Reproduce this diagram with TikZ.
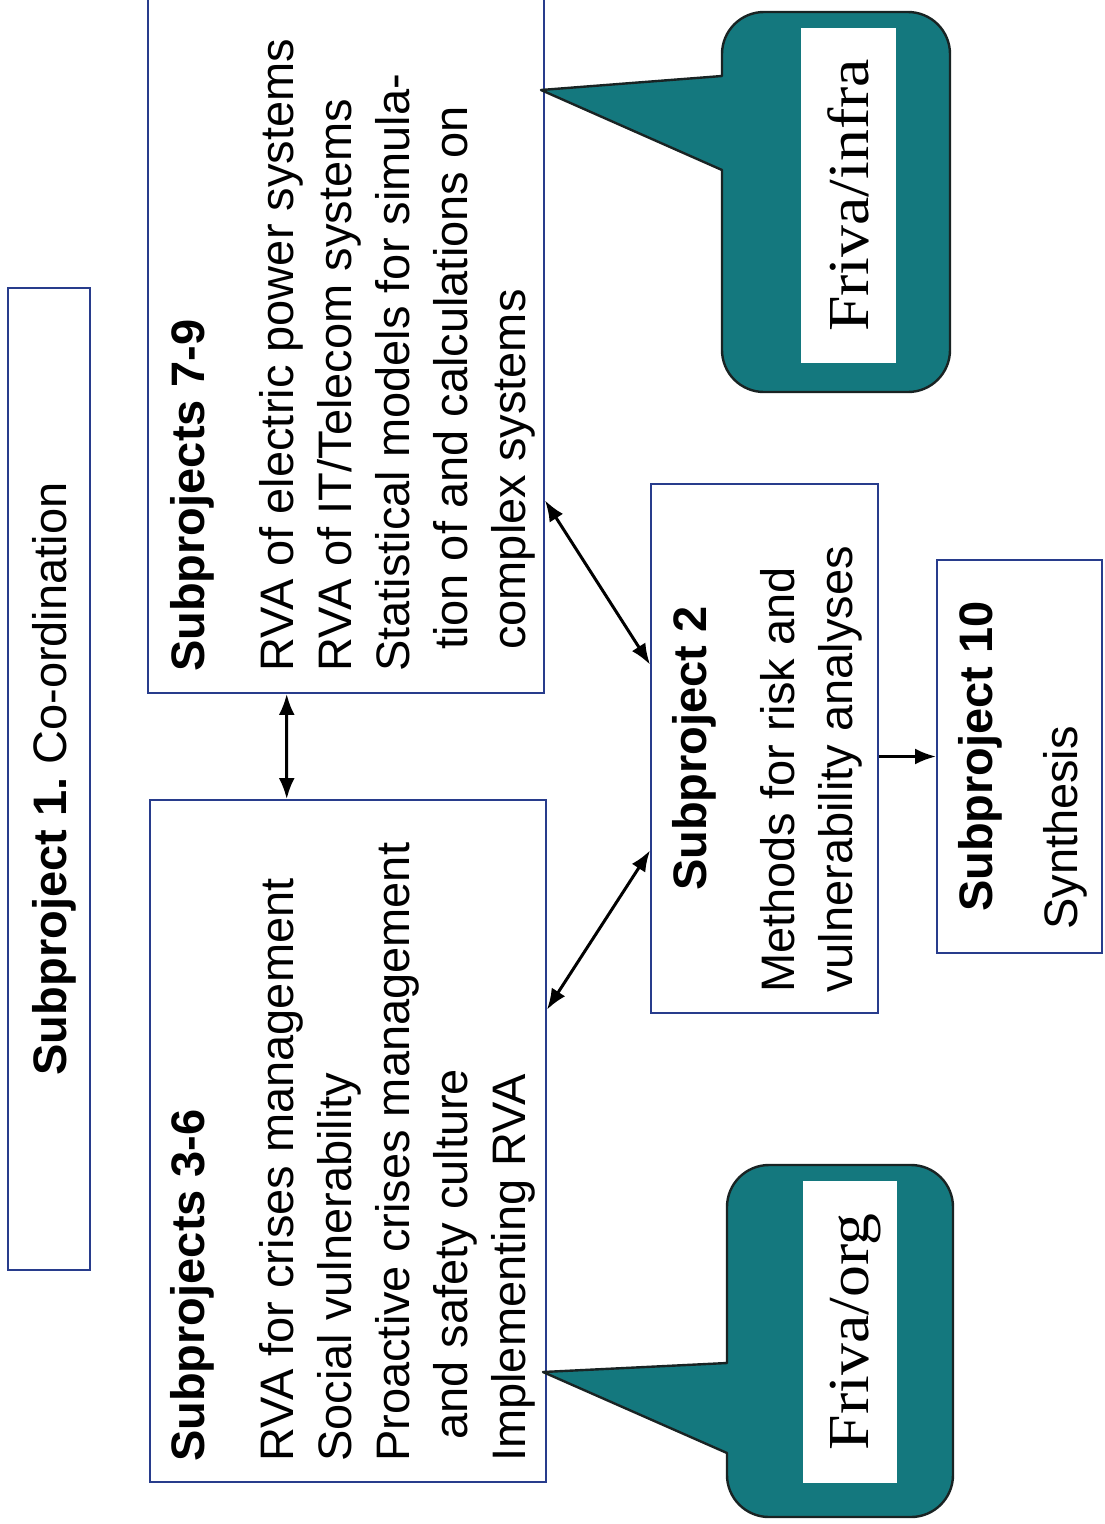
\documentclass[tikz,border=0pt]{standalone}
\usepackage{fontspec}
\setmainfont{Liberation Sans}
\newfontfamily\calloutfont[FakeStretch=1.1]{Liberation Serif}
\usetikzlibrary{arrows.meta,calc}
\definecolor{boxblue}{RGB}{40,60,140}
\definecolor{tealfill}{RGB}{20,120,126}
\definecolor{tealline}{RGB}{25,35,35}
\tikzset{
  box/.style={draw=boxblue, line width=1.9pt, fill=white, rectangle, inner sep=0pt},
  txt/.style={rotate=90, inner sep=0pt, font=\fontsize{47}{58}\selectfont, align=left},
  dbl/.style={{Latex[length=21pt,width=16pt]}-{Latex[length=21pt,width=16pt]}, line width=3pt, black},
  sgl/.style={-{Latex[length=21pt,width=16pt]}, line width=3pt, black},
  callout/.style={fill=tealfill, draw=tealline, line width=2.4pt, line join=round},
  label/.style={fill=white, inner sep=0pt, rectangle},
  ltxt/.style={rotate=90, inner sep=0pt, font=\calloutfont\fontsize{58}{64}\selectfont}
}
\begin{document}
\frenchspacing
\begin{tikzpicture}[x=1pt,y=1pt]
\useasboundingbox (0,0) rectangle (1104,-1524);
\fill[white] (0,0) rectangle (1104,-1524);

% boxes
\node[box, minimum width=82pt, minimum height=982pt] (b1) at (49,-779) {};
\node[box, minimum width=396pt, minimum height=697pt] (b79) at (346,-344.5) {};
\node[box, minimum width=396pt, minimum height=682pt] (b36) at (348,-1141) {};
\node[box, minimum width=227pt, minimum height=529pt] (b2) at (764.5,-748.5) {};
\node[box, minimum width=165pt, minimum height=393pt] (b10) at (1019.5,-756.5) {};

% texts
\node[txt, anchor=north] (t1) at (32,-779) {\textbf{Subproject 1.}\ Co-ordination};
\node[txt, anchor=north west] (t79) at (170,-672) {\textbf{Subprojects 7-9}\\[31pt]
RVA of electric power systems\\
RVA of IT/Telecom systems\\
Statistical models for simula-\\
\hspace*{22pt}tion of and calculations on\\
\hspace*{22pt}complex systems};
\node[txt, anchor=north west] (t36) at (170,-1462) {\textbf{Subprojects 3-6}\\[31pt]
RVA for crises management\\
Social vulnerability\\
Proactive crises management\\
\hspace*{22pt}and safety culture\\
Implementing RVA};
\node[txt, anchor=north] (h2) at (672,-748.5) {\textbf{Subproject 2}};
\node[txt, anchor=north west] (t2) at (760,-993) {Methods for risk and\\vulnerability analyses};
\node[txt, anchor=north] (h10) at (958,-756.5) {\textbf{Subproject 10}};
\node[txt, anchor=north west] (t10) at (1043,-930) {Synthesis};

% connectors
\draw[dbl] ($(b79.south west)!0.351!(b79.south east)$) -- ($(b36.north west)!0.346!(b36.north east)$);
\draw[dbl] ($(b79.north east)!0.723!(b79.south east)$) -- ($(b2.north west)!0.342!(b2.south west)$);
\draw[dbl] ($(b36.north east)!0.308!(b36.south east)$) -- ($(b2.north west)!0.692!(b2.south west)$);
\draw[sgl] (b2.east |- b10.west) -- (b10.west);

% callout Friva/infra
\draw[callout] (541,-90) -- (722,-76) -- (722,-54)
  arc[start angle=180,end angle=90,radius=42] -- (908,-12)
  arc[start angle=90,end angle=0,radius=42] -- (950,-350)
  arc[start angle=0,end angle=-90,radius=42] -- (764,-392)
  arc[start angle=-90,end angle=-180,radius=42] -- (722,-170) -- cycle;
\node[label, minimum width=95pt, minimum height=335pt] (w1) at (848.5,-195.5) {};
\node[ltxt, anchor=base] (f1) at (868,-195.5) {Friva/infra};

% callout Friva/org
\draw[callout] (543,-1372) -- (727,-1363) -- (727,-1207)
  arc[start angle=180,end angle=90,radius=42] -- (911,-1165)
  arc[start angle=90,end angle=0,radius=42] -- (953,-1475)
  arc[start angle=0,end angle=-90,radius=42] -- (769,-1517)
  arc[start angle=-90,end angle=-180,radius=42] -- (727,-1453) -- cycle;
\node[label, minimum width=94pt, minimum height=302pt] (w2) at (850,-1332) {};
\node[ltxt, anchor=base] (f2) at (868,-1332) {Friva/org};
\end{tikzpicture}
\end{document}
